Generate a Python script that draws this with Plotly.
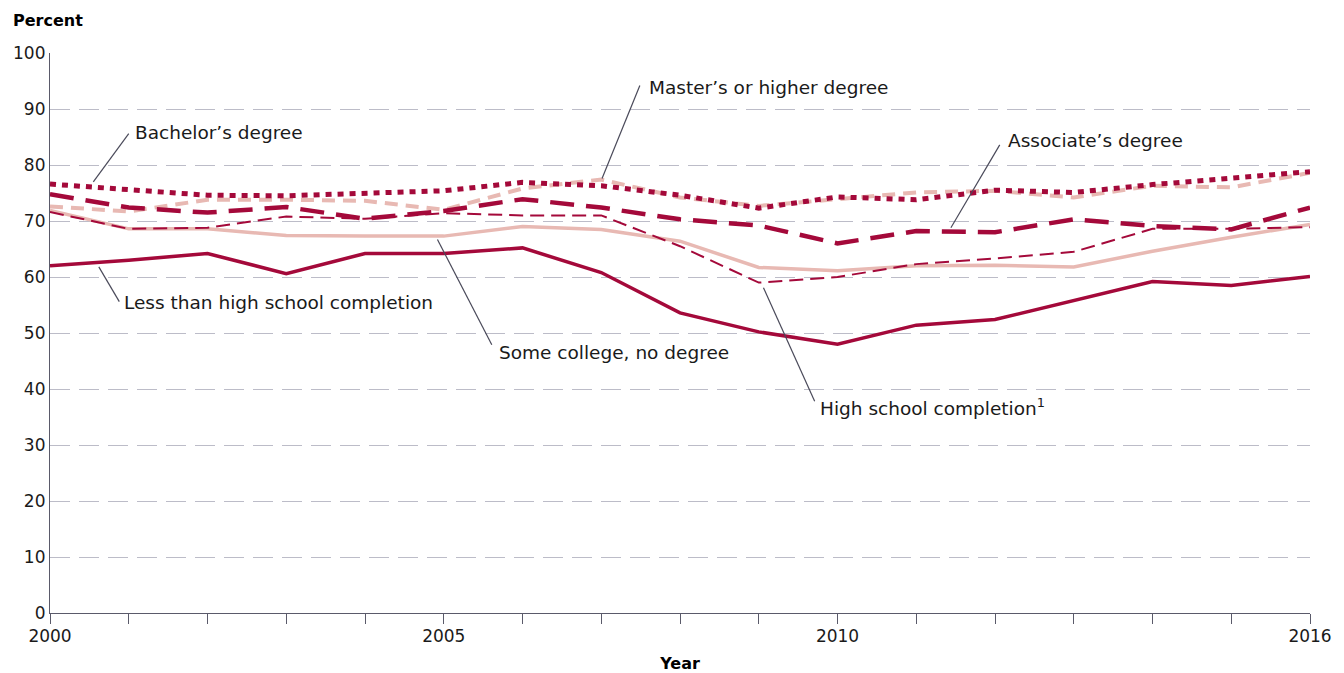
import plotly.graph_objects as go

years = list(range(2000, 2017))

less_than_hs = [62.0, 63.0, 64.2, 60.6, 64.2, 64.2, 65.2, 60.8, 53.6, 50.2, 48.0, 51.4, 52.4, 55.8, 59.2, 58.5, 60.1]
high_school = [71.6, 68.6, 68.8, 70.8, 70.4, 71.4, 71.0, 71.0, 65.5, 59.0, 60.0, 62.3, 63.3, 64.5, 68.6, 68.6, 68.9]
some_college = [71.9, 68.6, 68.6, 67.4, 67.3, 67.3, 69.0, 68.5, 66.4, 61.7, 61.1, 62.0, 62.1, 61.8, 64.6, 67.1, 69.4]
associates = [74.8, 72.4, 71.5, 72.5, 70.4, 71.8, 73.9, 72.4, 70.3, 69.2, 66.0, 68.2, 68.0, 70.3, 69.1, 68.5, 72.4]
bachelors = [76.6, 75.5, 74.6, 74.5, 74.9, 75.4, 76.9, 76.3, 74.6, 72.3, 74.3, 73.8, 75.5, 75.1, 76.5, 77.6, 78.8]
masters = [72.6, 71.7, 73.8, 73.8, 73.6, 72.0, 75.8, 77.4, 74.2, 72.7, 73.9, 75.1, 75.4, 74.2, 76.3, 76.0, 78.6]

x_label_years = [2000, 2005, 2010, 2016]
x_label_text = ["2000", "2005", "2010", "2016"]
y_ticks = list(range(0, 101, 10))

DARK = "#A4093A"
LIGHT = "#E8B9B3"
FONT = "DejaVu Sans"

fig = go.Figure()

series = [
    ("Master's or higher degree", masters, LIGHT, 4, "13px,8px"),
    ("Some college, no degree", some_college, LIGHT, 3.5, "solid"),
    ("High school completion", high_school, DARK, 2, "14px,7px"),
    ("Associate's degree", associates, DARK, 4.5, "24px,12px"),
    ("Bachelor's degree", bachelors, DARK, 5, "6px,6px"),
    ("Less than high school completion", less_than_hs, DARK, 3.5, "solid"),
]
for name, vals, color, w, dash in series:
    fig.add_trace(go.Scatter(x=years, y=vals, mode="lines", name=name,
                             line=dict(color=color, width=w, dash=dash),
                             hoverinfo="x+y+name"))

# labels with leader lines: (text, text_x, text_y, line from, line to)
labels = [
    ("Bachelor\u2019s degree", 2001.06, 85.8, (2001.0, 85.6), (2000.55, 77.0)),
    ("Master\u2019s or higher degree", 2007.58, 93.8, (2007.49, 94.2), (2007.01, 77.6)),
    ("Associate\u2019s degree", 2012.14, 84.4, (2012.06, 83.6), (2011.44, 68.8)),
    ("Less than high school completion", 2000.92, 55.4, (2000.88, 55.6), (2000.62, 61.8)),
    ("Some college, no degree", 2005.68, 46.5, (2005.61, 47.9), (2004.92, 66.7)),
    ("High school completion<sup>1</sup>", 2009.75, 36.7, (2009.71, 37.8), (2009.06, 58.1)),
]
for text, tx, ty, p0, p1 in labels:
    fig.add_annotation(x=tx, y=ty, text=text, showarrow=False, xanchor="left", yanchor="middle",
                       font=dict(family=FONT, size=18.5, color="#1a1a1a"))
    fig.add_shape(type="line", x0=p0[0], y0=p0[1], x1=p1[0], y1=p1[1], xref="x", yref="y",
                  line=dict(color="#4a4a5a", width=1.2))

fig.add_annotation(x=0, xref="paper", y=1, yref="paper", text="<b>Percent</b>", showarrow=False,
                   xanchor="left", yanchor="middle", xshift=-39, yshift=33,
                   font=dict(family=FONT, size=16, color="#000"))

fig.update_layout(
    width=1344, height=673,
    margin=dict(l=42, r=42, t=45, b=68, autoexpand=False),
    plot_bgcolor="white", paper_bgcolor="white",
    showlegend=False,
    font=dict(family=FONT, size=17, color="#1a1a1a"),
)
fig.update_xaxes(
    range=[2000, 2016], tickmode="array", tickvals=x_label_years, ticktext=x_label_text,
    ticks="outside", ticklen=10, tickcolor="#5a5a6a", tickwidth=1,
    minor=dict(tickmode="array", tickvals=years, ticks="outside", ticklen=10,
               tickcolor="#5a5a6a", tickwidth=1, showgrid=False),
    showline=True, linecolor="#5a5a6a", linewidth=1.2,
    showgrid=False, zeroline=False, automargin=False,
    ticklabelstandoff=-3,
    tickfont=dict(family=FONT, size=17, color="#1a1a1a"),
    title=dict(text="<b>Year</b>", font=dict(family=FONT, size=16, color="#000"), standoff=13),
)
fig.update_yaxes(
    range=[0, 100], tickvals=y_ticks,
    showline=True, linecolor="#5a5a6a", linewidth=1.2,
    showgrid=True, gridcolor="#bcbcc8", griddash="20px,9px", gridwidth=1,
    zeroline=False, ticks="", automargin=False,
    tickfont=dict(family=FONT, size=17, color="#1a1a1a"),
)

fig.write_html("out.html")
